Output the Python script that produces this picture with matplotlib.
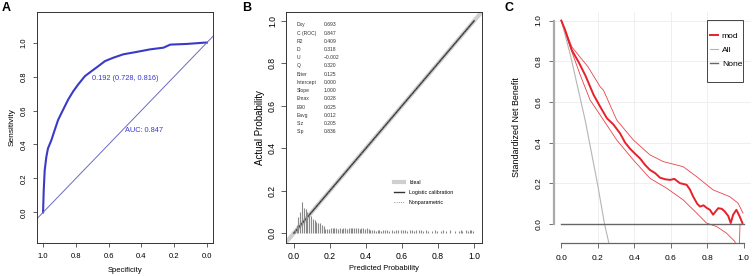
import matplotlib
matplotlib.use("Agg")
import matplotlib.pyplot as plt
import numpy as np
from matplotlib.lines import Line2D
from matplotlib.patches import Rectangle

plt.rcParams["font.family"] = ["Liberation Sans", "DejaVu Sans"]

# ---- panel A: ROC curve (specificity, sensitivity)
roc_spec = [1.0, 0.996, 0.990, 0.980, 0.970, 0.949, 0.929, 0.908, 0.878, 0.847, 0.816,
            0.786, 0.745, 0.704, 0.663, 0.622, 0.571, 0.510, 0.429, 0.347, 0.265,
            0.224, 0.122, 0.010, 0.0]
roc_sens = [0.0, 0.129, 0.248, 0.327, 0.377, 0.426, 0.485, 0.545, 0.604, 0.664, 0.713,
            0.753, 0.802, 0.832, 0.861, 0.891, 0.911, 0.931, 0.945, 0.960, 0.970,
            0.988, 0.992, 1.0, 1.0]
auc_label = "AUC: 0.847"
thres_label = "0.192 (0.728, 0.816)"

# ---- panel B: calibration stats and histogram of predicted probabilities
stat_names = ["Dxy", "C (ROC)", "R2", "D", "U", "Q", "Brier", "Intercept", "Slope",
              "Emax", "E90", "Eavg", "S:z", "S:p"]
stat_values = ["0.693", "0.847", "0.409", "0.318", "\u22120.002", "0.320", "0.125",
               "0.000", "1.000", "0.028", "0.025", "0.012", "0.205", "0.836"]
hist_x = [0.005 + 0.01 * i for i in range(100)]
hist_h = [0.02, 0.04, 0.075, 0.10, 0.148, 0.12, 0.115, 0.10, 0.085, 0.08,
          0.065, 0.06, 0.05, 0.045, 0.045, 0.04, 0.035, 0.02, 0.018, 0.02,
          0.024, 0.022, 0.024, 0.023, 0.02, 0.022, 0.018, 0.024, 0.022, 0.02,
          0.022, 0.024, 0.023, 0.025, 0.022, 0.024, 0.02, 0.022, 0.023, 0.02,
          0.022, 0.02, 0.012, 0.013, 0.012, 0.011, 0.013, 0.012, 0.011, 0.012,
          0.013, 0.012, 0.011, 0.0, 0.012, 0.011, 0.013, 0.012, 0.0, 0.012,
          0.016, 0.012, 0.011, 0.0, 0.015, 0.012, 0.011, 0.012, 0.0, 0.014,
          0.012, 0.011, 0.0, 0.012, 0.011, 0.0, 0.011, 0.0, 0.012, 0.011,
          0.0, 0.011, 0.012, 0.0, 0.011, 0.0, 0.012, 0.0, 0.0, 0.011,
          0.0, 0.011, 0.012, 0.011, 0.0, 0.012, 0.011, 0.013, 0.015, 0.011]

# ---- panel C: decision curve
all_x = [0.0, 0.05, 0.131, 0.20, 0.237, 0.26, 0.28]
all_y = [1.0, 0.83, 0.51, 0.19, 0.0, -0.09, -0.17]
mod_x = [0.0, 0.022, 0.040, 0.058, 0.095, 0.132, 0.177, 0.213, 0.25, 0.285, 0.322,
         0.35, 0.377, 0.405, 0.432, 0.46, 0.486, 0.515, 0.541, 0.57, 0.596, 0.62,
         0.650, 0.687, 0.705, 0.723, 0.745, 0.760, 0.78, 0.796, 0.815, 0.832, 0.860,
         0.88, 0.896, 0.915, 0.929, 0.942, 0.960, 0.978, 0.993]
mod_y = [1.0, 0.951, 0.902, 0.854, 0.796, 0.73, 0.635, 0.577, 0.52, 0.49, 0.446,
         0.40, 0.37, 0.345, 0.322, 0.29, 0.266, 0.25, 0.228, 0.22, 0.217, 0.222,
         0.201, 0.193, 0.17, 0.135, 0.10, 0.086, 0.092, 0.08, 0.07, 0.046, 0.078,
         0.075, 0.062, 0.04, 0.005, 0.046, 0.070, 0.037, 0.005]
up_x = [0.0, 0.058, 0.146, 0.213, 0.231, 0.304, 0.395, 0.486, 0.559, 0.668, 0.742,
        0.832, 0.923, 0.969, 0.996]
up_y = [1.0, 0.87, 0.773, 0.675, 0.658, 0.511, 0.413, 0.340, 0.307, 0.282, 0.233,
        0.168, 0.135, 0.103, 0.054]
lo_x = [0.0, 0.058, 0.104, 0.158, 0.213, 0.304, 0.395, 0.486, 0.578, 0.668, 0.742,
        0.796, 0.851, 0.905, 0.951, 0.968, 0.975, 0.98]
lo_y = [1.0, 0.846, 0.732, 0.609, 0.536, 0.413, 0.315, 0.225, 0.176, 0.119, 0.054,
        0.005, -0.012, -0.044, -0.085, -0.13, -0.13, 0.0]

BLUE = "#3a3ac8"
RED = "#e8202a"
TICKS = np.arange(0, 1.01, 0.2)
TICK_LABELS = [f"{v:.1f}" for v in TICKS]


def rot_yticks(ax):
    for lab in ax.get_yticklabels():
        lab.set_rotation(90)
        lab.set_va("center")


def panel_roc(ax):
    ax.plot(roc_spec, roc_sens, color=BLUE, lw=1.5)
    ax.plot([1.2, -0.2], [-0.2, 1.2], color="#6b6bc0", lw=0.7)
    ax.text(0.704, 0.79, thres_label, color=BLUE, fontsize=5.3, va="center", ha="left")
    ax.text(0.5, 0.485, auc_label, color=BLUE, fontsize=5.3, va="center", ha="left")
    ax.set_xlim(1.037, -0.037)
    ax.set_ylim(-0.18, 1.18)
    ax.set_xticks(TICKS)
    ax.set_yticks(TICKS)
    ax.set_xticklabels(TICK_LABELS)
    ax.set_yticklabels(TICK_LABELS)
    ax.tick_params(labelsize=5.5, length=3, width=0.6, color="#444", pad=4)
    rot_yticks(ax)
    ax.set_xlabel("Specificity", fontsize=5.5, labelpad=5)
    ax.set_ylabel("Sensitivity", fontsize=6, labelpad=3)
    for s in ax.spines.values():
        s.set_linewidth(0.7)
        s.set_color("#333")


def panel_cal(ax):
    ax.plot([-0.2, 1.2], [-0.2, 1.2], color="#cfcfcf", lw=3, solid_capstyle="butt")
    ax.plot([0, 1], [0, 1], color="#333333", lw=1.0)
    ax.plot([0, 1], [0, 1], color="#777777", lw=0.6, ls=":")
    ax.vlines(hist_x, 0, hist_h, color="#8a8a8a", lw=0.8)
    narrow = ["Liberation Sans Narrow", "Liberation Sans", "DejaVu Sans"]
    y0 = 0.981
    for i, (n, v) in enumerate(zip(stat_names, stat_values)):
        y = y0 - i * 0.0387
        ax.text(0.015, y, n, fontsize=3.6, va="center", ha="left", color="#333",
                family=narrow)
        ax.text(0.163, y, v, fontsize=3.6, va="center", ha="left", color="#333",
                family=narrow)
    handles = [Line2D([], [], color="#cfcfcf", lw=3),
               Line2D([], [], color="#333333", lw=1.0),
               Line2D([], [], color="#777777", lw=0.6, ls=":")]
    ax.legend(handles, ["Ideal", "Logistic calibration", "Nonparametric"],
              loc="upper left", bbox_to_anchor=(0.55, 0.272), frameon=False,
              prop={"size": 3.8, "family": narrow}, handlelength=2.0,
              labelspacing=0.9, handletextpad=0.9, borderaxespad=0, borderpad=0)
    ax.set_xlim(-0.044, 1.044)
    ax.set_ylim(-0.047, 1.042)
    ax.set_xticks(TICKS)
    ax.set_yticks(TICKS)
    ax.set_xticklabels(TICK_LABELS)
    ax.set_yticklabels(TICK_LABELS)
    ax.tick_params(labelsize=6.2, length=3.5, width=0.6, color="#444", pad=3)
    rot_yticks(ax)
    ax.set_xlabel("Predicted Probability", fontsize=5.4, labelpad=3)
    ax.set_ylabel("Actual Probability", fontsize=7, labelpad=2)
    for s in ax.spines.values():
        s.set_linewidth(0.7)
        s.set_color("#333")


def panel_dca(ax):
    for t in TICKS[1:-1]:
        ax.axvline(t, color="#ececec", lw=0.6, zorder=0)
        ax.axhline(t, color="#ececec", lw=0.6, zorder=0)
    ax.axhline(1.0, color="#ececec", lw=0.6, zorder=0)
    ax.plot(up_x, up_y, color=RED, lw=0.6, alpha=0.85)
    ax.plot(lo_x, lo_y, color=RED, lw=0.6, alpha=0.85)
    ax.plot(all_x, all_y, color="#b5b5b5", lw=0.8, label="All")
    ax.plot([0, 1], [0, 0], color="#666666", lw=1.0, label="None")
    ax.plot(mod_x, mod_y, color=RED, lw=1.4, label="mod")
    h, l = ax.get_legend_handles_labels()
    order = [2, 0, 1]
    ax.legend([h[i] for i in order], [l[i] for i in order], loc="upper left",
              bbox_to_anchor=(0.792, 0.914), fontsize=6.1, frameon=False,
              borderpad=0, handlelength=0.95, handletextpad=0.45,
              labelspacing=0.7, borderaxespad=0)
    ax.add_patch(Rectangle((0.778, 0.697), 0.961 - 0.778, 0.965 - 0.697,
                           transform=ax.transAxes, fill=False, edgecolor="#444",
                           lw=0.7, clip_on=False))
    ax.set_xlim(-0.04, 1.04)
    ax.set_ylim(-0.093, 1.042)
    ax.set_xticks(TICKS)
    ax.set_yticks(TICKS)
    ax.set_xticklabels(TICK_LABELS)
    ax.set_yticklabels(TICK_LABELS)
    ax.tick_params(labelsize=6, length=3.5, width=0.6, color="#555", pad=5)
    rot_yticks(ax)
    ax.set_ylabel("Standardized Net Benefit", fontsize=6.4, labelpad=10)
    ax.spines["top"].set_visible(False)
    ax.spines["right"].set_visible(False)
    ax.spines["left"].set_bounds(0, 1)
    ax.spines["left"].set_color("#aaaaaa")
    ax.spines["left"].set_linewidth(1.6)
    ax.spines["bottom"].set_bounds(0, 1)
    ax.spines["bottom"].set_color("#666666")
    ax.spines["bottom"].set_linewidth(0.9)


fig = plt.figure(figsize=(7.53, 2.76), dpi=100)
W, H = 753.0, 276.0
top, bottom = 12, 243
axA = fig.add_axes([37 / W, (H - bottom) / H, 176 / W, (bottom - top) / H])
axB = fig.add_axes([286 / W, (H - bottom) / H, 196 / W, (bottom - top) / H])
axC = fig.add_axes([554 / W, (H - bottom) / H, 197 / W, (bottom - top) / H])
panel_roc(axA)
panel_cal(axB)
panel_dca(axC)
for x, letter in [(2, "A"), (242, "B"), (505, "C")]:
    fig.text(x / W, 1 - 2 / H, letter, fontsize=9, fontweight="bold", va="top", ha="left")

fig.savefig("out.png", dpi=100)
plt.close(fig)
